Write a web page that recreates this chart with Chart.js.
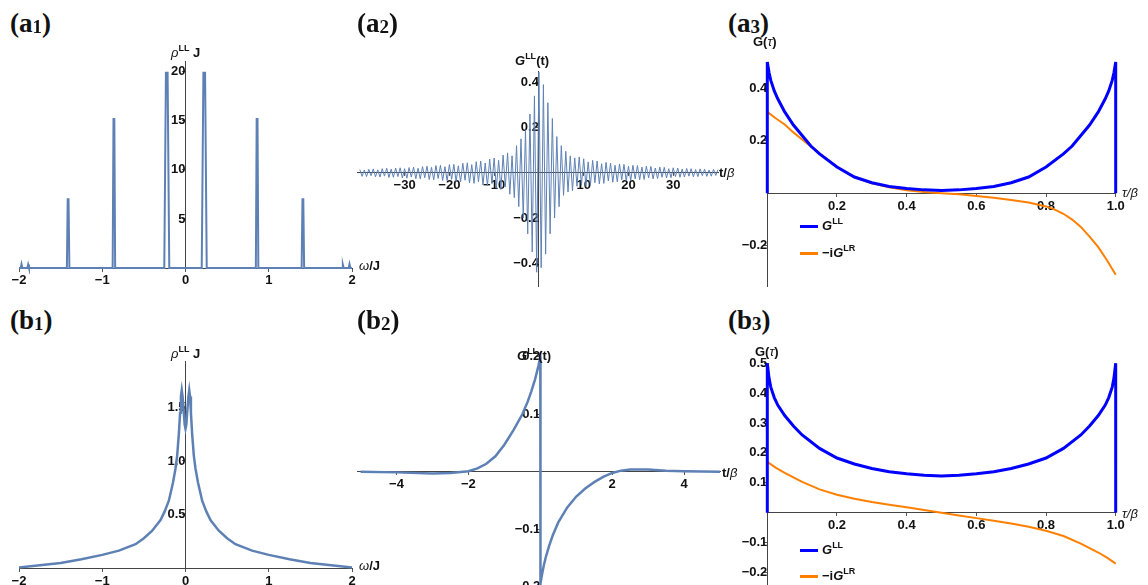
<!DOCTYPE html>
<html>
<head>
<meta charset="utf-8">
<script src="https://cdn.jsdelivr.net/npm/chart.js@4.4.0/dist/chart.umd.min.js"></script>
<style>
    body { margin: 0; background: #fff; overflow: hidden; }
    #page { position: relative; width: 1148px; height: 585px; overflow: hidden; background: #fff; font-family: "Liberation Sans", Arial, sans-serif; }
    canvas { position: absolute; }
    .lbl { position: absolute; font-family: "Liberation Serif", "Times New Roman", serif; font-weight: bold; font-size: 27px; line-height: 27px; color: #111; white-space: nowrap; }
    .lbl span { font-size: 19px; position: relative; top: 1px; }
    .ax { position: absolute; font-size: 13px; line-height: 13px; font-weight: bold; color: #111; white-space: nowrap; }
    .ax sup { font-size: 9px; line-height: 0; position: relative; top: -1px; }
    .gr { font-style: italic; font-weight: normal; }
    .key { position: absolute; width: 18px; height: 3px; }
</style>
</head>
<body>
<div id="page">
    <div class="lbl" style="left:10px; top:10px;">(a<span>1</span>)</div>
    <div class="lbl" style="left:357px; top:10px;">(a<span>2</span>)</div>
    <div class="lbl" style="left:728px; top:10px;">(a<span>3</span>)</div>
    <div class="lbl" style="left:10px; top:307px;">(b<span>1</span>)</div>
    <div class="lbl" style="left:357px; top:307px;">(b<span>2</span>)</div>
    <div class="lbl" style="left:728px; top:307px;">(b<span>3</span>)</div>

    <div class="ax" style="left:171px; top:46px;"><span class="gr">ρ</span><sup>LL</sup> J</div>
    <div class="ax" style="left:359px; top:259px;"><span class="gr">ω</span>/J</div>
    <div class="ax" style="left:515px; top:54px;"><i>G</i><sup>LL</sup>(t)</div>
    <div class="ax" style="left:719px; top:166px;">t/<span class="gr">β</span></div>
    <div class="ax" style="left:753px; top:35px;">G(<span class="gr">τ</span>)</div>
    <div class="ax" style="left:1122px; top:186px;"><span class="gr">τ/β</span></div>

    <div class="ax" style="left:171px; top:347px;"><span class="gr">ρ</span><sup>LL</sup> J</div>
    <div class="ax" style="left:359px; top:559px;"><span class="gr">ω</span>/J</div>
    <div class="ax" style="left:517px; top:349px;"><i>G</i><sup>LL</sup>(t)</div>
    <div class="ax" style="left:722px; top:466px;">t/<span class="gr">β</span></div>
    <div class="ax" style="left:755px; top:345px;">G(<span class="gr">τ</span>)</div>
    <div class="ax" style="left:1122px; top:507px;"><span class="gr">τ/β</span></div>

    <div class="key" style="left:800px; top:225px; background:#0000ff;"></div>
    <div class="ax" style="left:822px; top:219px;"><i>G</i><sup>LL</sup></div>
    <div class="key" style="left:800px; top:252px; background:#ff8000;"></div>
    <div class="ax" style="left:822px; top:246px;">−i<i>G</i><sup>LR</sup></div>

    <div class="key" style="left:800px; top:549px; background:#0000ff;"></div>
    <div class="ax" style="left:822px; top:543px;"><i>G</i><sup>LL</sup></div>
    <div class="key" style="left:800px; top:575px; background:#ff8000;"></div>
    <div class="ax" style="left:822px; top:569px;">−i<i>G</i><sup>LR</sup></div>
</div>
<script>
"use strict";

// (a1) spectral density, sharp peaks
var a1Omega = [-2, -1.98, -1.97, -1.96, -1.9, -1.89, -1.88, -1.425, -1.415, -1.405, -1.395, -0.875, -0.865, -0.855, -0.845,
    -0.255, -0.235, -0.215, -0.195, 0.195, 0.215, 0.235, 0.255, 0.845, 0.855, 0.865, 0.875, 1.395, 1.405, 1.415, 1.425,
    1.88, 1.89, 1.9, 1.96, 1.97, 1.98, 2];
var a1Rho = [0, 0, 0.4, 0, 0, 0.35, 0, 0, 7, 7, 0, 0, 15.2, 15.2, 0,
    0, 19.9, 19.9, 0, 0, 19.9, 19.9, 0, 0, 15.2, 15.2, 0, 0, 7, 7, 0,
    0, 0.35, 0, 0, 0.4, 0, 0];

// (a2) real time Green function, oscillating
var a2Time = [
    -40, -39.5, -39, -38.5, -38, -37.5, -37, -36.5, -36, -35.5,
    -35, -34.5, -34, -33.5, -33, -32.5, -32, -31.5, -31, -30.5,
    -30, -29.5, -29, -28.5, -28, -27.5, -27, -26.5, -26, -25.5,
    -25, -24.5, -24, -23.5, -23, -22.5, -22, -21.5, -21, -20.5,
    -20, -19.5, -19, -18.5, -18, -17.5, -17, -16.5, -16, -15.5,
    -15, -14.5, -14, -13.5, -13, -12.5, -12, -11.5, -11, -10.5,
    -10, -9.5, -9, -8.5, -8, -7.5, -7, -6.5, -6, -5.5,
    -5, -4.5, -4, -3.5, -3, -2.5, -2, -1.5, -1, -0.5,
    0, 0.5, 1, 1.5, 2, 2.5, 3, 3.5, 4, 4.5,
    5, 5.5, 6, 6.5, 7, 7.5, 8, 8.5, 9, 9.5,
    10, 10.5, 11, 11.5, 12, 12.5, 13, 13.5, 14, 14.5,
    15, 15.5, 16, 16.5, 17, 17.5, 18, 18.5, 19, 19.5,
    20, 20.5, 21, 21.5, 22, 22.5, 23, 23.5, 24, 24.5,
    25, 25.5, 26, 26.5, 27, 27.5, 28, 28.5, 29, 29.5,
    30, 30.5, 31, 31.5, 32, 32.5, 33, 33.5, 34, 34.5,
    35, 35.5, 36, 36.5, 37, 37.5, 38, 38.5, 39, 39.5,
    40];
var a2G = [
    0.014, -0.016, 0.012, -0.017, 0.015, -0.013, 0.017, -0.018, 0.013, -0.019,
    0.018, -0.015, 0.02, -0.021, 0.016, -0.02, 0.021, -0.017, 0.022, -0.023,
    0.018, -0.024, 0.023, -0.019, 0.025, -0.026, 0.02, -0.027, 0.027, -0.022,
    0.029, -0.03, 0.024, -0.031, 0.032, -0.025, 0.033, -0.034, 0.027, -0.035,
    0.036, -0.029, 0.037, -0.039, 0.031, -0.04, 0.042, -0.033, 0.044, -0.045,
    0.036, -0.047, 0.049, -0.04, 0.052, -0.054, 0.043, -0.058, 0.06, -0.048,
    0.065, -0.068, 0.055, -0.074, 0.078, -0.062, 0.088, -0.095, 0.075, -0.11,
    0.12, -0.15, 0.15, -0.2, 0.19, -0.27, 0.26, -0.35, 0.34, -0.44,
    0.445, -0.42, 0.39, -0.36, 0.31, -0.27, 0.24, -0.2, 0.16, -0.15,
    0.12, -0.1, 0.095, -0.085, 0.075, -0.08, 0.066, -0.06, 0.07, -0.055,
    0.062, -0.06, 0.048, -0.056, 0.055, -0.044, 0.052, -0.05, 0.04, -0.047,
    0.046, -0.036, 0.043, -0.042, 0.033, -0.04, 0.039, -0.031, 0.037, -0.036,
    0.029, -0.034, 0.033, -0.027, 0.032, -0.031, 0.025, -0.03, 0.029, -0.023,
    0.028, -0.027, 0.021, -0.026, 0.025, -0.02, 0.024, -0.023, 0.018, -0.022,
    0.022, -0.017, 0.021, -0.02, 0.016, -0.019, 0.019, -0.015, 0.018, -0.018,
    0.014, -0.017, 0.017, -0.013, 0.016, -0.016, 0.012, -0.015, 0.015, -0.012,
    0.014];

// (a3) imaginary time Green functions
var a3TauLL = [0, 0, 0.005, 0.01, 0.02, 0.03, 0.05, 0.075, 0.1, 0.125, 0.15, 0.2, 0.25, 0.3, 0.35, 0.4, 0.45, 0.5,
    0.55, 0.6, 0.65, 0.7, 0.75, 0.8, 0.85, 0.875, 0.9, 0.925, 0.95, 0.97, 0.98, 0.99, 0.995, 1, 1];
var a3GLL = [0, 0.5, 0.46, 0.43, 0.39, 0.36, 0.31, 0.26, 0.22, 0.18, 0.15, 0.1, 0.062, 0.04, 0.026, 0.018, 0.013, 0.011,
    0.013, 0.018, 0.026, 0.04, 0.062, 0.1, 0.15, 0.18, 0.22, 0.26, 0.31, 0.36, 0.39, 0.43, 0.46, 0.5, 0];
var a3TauLR = [0, 0.025, 0.05, 0.075, 0.1, 0.125, 0.15, 0.2, 0.25, 0.3, 0.35, 0.4, 0.45, 0.5,
    0.55, 0.6, 0.65, 0.7, 0.75, 0.8, 0.825, 0.85, 0.875, 0.9, 0.925, 0.95, 0.975, 1];
var a3GLR = [0.31, 0.285, 0.262, 0.232, 0.205, 0.178, 0.152, 0.1, 0.062, 0.038, 0.023, 0.012, 0.005, 0,
    -0.004, -0.01, -0.017, -0.026, -0.035, -0.05, -0.062, -0.078, -0.1, -0.128, -0.165, -0.205, -0.255, -0.31];

// (b1) spectral density, smooth
var b1Omega = [-2, -1.75, -1.5, -1.25, -1, -0.8, -0.6, -0.5, -0.4, -0.3, -0.25, -0.2, -0.15, -0.12, -0.1, -0.08,
    -0.065, -0.055, -0.045, -0.035, -0.02, -0.01, 0, 0.01, 0.02, 0.035, 0.045, 0.055, 0.065,
    0.08, 0.1, 0.12, 0.15, 0.2, 0.25, 0.3, 0.4, 0.5, 0.6, 0.8, 1, 1.25, 1.5, 1.75, 2];
var b1Rho = [0.008, 0.028, 0.05, 0.085, 0.125, 0.165, 0.225, 0.28, 0.35, 0.45, 0.53, 0.63, 0.8, 0.93, 1.05, 1.25,
    1.45, 1.6, 1.66, 1.6, 1.45, 1.34, 1.3, 1.34, 1.45, 1.6, 1.66, 1.6, 1.45,
    1.25, 1.05, 0.93, 0.8, 0.63, 0.53, 0.45, 0.35, 0.28, 0.225, 0.165, 0.125, 0.085, 0.05, 0.028, 0.008];

// (b2) real time Green function, decaying
var b2Time = [-5, -4, -3, -2.5, -2, -1.75, -1.5, -1.25, -1, -0.75, -0.5, -0.35, -0.25, -0.15, -0.1, -0.05, -0.01,
    0, 0, 0.01, 0.05, 0.1, 0.15, 0.25, 0.35, 0.5, 0.75, 1, 1.25, 1.5, 1.75, 2, 2.25, 2.5, 3, 3.5, 4, 5];
var b2G = [0, -0.001, -0.003, -0.002, 0.001, 0.006, 0.014, 0.027, 0.047, 0.072, 0.1, 0.122, 0.14, 0.16, 0.172, 0.185, 0.197,
    0.2, -0.2, -0.194, -0.178, -0.162, -0.149, -0.128, -0.11, -0.088, -0.062, -0.043, -0.029, -0.018, -0.009, -0.002, 0.002, 0.004, 0.004, 0.002, 0.001, 0];

// (b3) imaginary time Green functions
var b3TauLL = [0, 0, 0.005, 0.01, 0.02, 0.03, 0.05, 0.075, 0.1, 0.15, 0.2, 0.25, 0.3, 0.35, 0.4, 0.45, 0.5,
    0.55, 0.6, 0.65, 0.7, 0.75, 0.8, 0.85, 0.9, 0.925, 0.95, 0.97, 0.98, 0.99, 0.995, 1, 1];
var b3GLL = [0, 0.5, 0.45, 0.42, 0.385, 0.36, 0.325, 0.29, 0.26, 0.215, 0.183, 0.163, 0.148, 0.137, 0.13, 0.125, 0.123,
    0.125, 0.13, 0.137, 0.148, 0.163, 0.183, 0.215, 0.26, 0.29, 0.325, 0.36, 0.385, 0.42, 0.45, 0.5, 0];
var b3TauLR = [0, 0.025, 0.05, 0.1, 0.15, 0.2, 0.25, 0.3, 0.35, 0.4, 0.45, 0.5,
    0.55, 0.6, 0.65, 0.7, 0.75, 0.8, 0.85, 0.9, 0.95, 0.975, 1];
var b3GLR = [0.17, 0.15, 0.133, 0.103, 0.078, 0.06, 0.047, 0.036, 0.027, 0.018, 0.009, 0,
    -0.009, -0.018, -0.027, -0.036, -0.047, -0.06, -0.078, -0.103, -0.133, -0.15, -0.17];

// Tick labels
var omegaTicks = [-2, -1, 0, 1, 2];
var a1RhoTicks = [5, 10, 15, 20];
var a2TimeTicks = [-30, -20, -10, 10, 20, 30];
var a2GTicks = [-0.4, -0.2, 0.2, 0.4];
var tauTicks = [0.2, 0.4, 0.6, 0.8, 1.0];
var a3GTicks = [-0.2, 0.2, 0.4];
var b1RhoTicks = [0.5, 1.0, 1.5];
var b2TimeTicks = [-4, -2, 2, 4];
var b2GTicks = [-0.2, -0.1, 0.1, 0.2];
var b3GTicks = [-0.2, -0.1, 0.1, 0.2, 0.3, 0.4, 0.5];

var mmaBlue = "#5e81b5";
var pureBlue = "#0000ff";
var orange = "#ff8000";

window.onload = function () {

    makePanel({ left: 0, top: 40, w: 370, h: 260, pad: { left: 19, right: 18, top: 21, bottom: 32 } },
        axis(-2, 2, omegaTicks, 0, { y: 0 }), axis(0, 21.1, a1RhoTicks, 0, { x: 0 }),
        [line(a1Omega, a1Rho, mmaBlue, 2)]);

    makePanel({ left: 340, top: 40, w: 410, h: 260, pad: { left: 17.6, right: 32, top: 31.7, bottom: 13.3 } },
        axis(-40.5, 40, a2TimeTicks, 0, { y: 0 }), axis(-0.504, 0.447, a2GTicks, 1, { x: 0 }),
        [line(a2Time, a2G, mmaBlue, 1)]);

    makePanel({ left: 730, top: 40, w: 418, h: 260, pad: { left: 37.3, right: 32.3, top: 22, bottom: 13.5 } },
        axis(0, 1, tauTicks, 1, { y: 0 }), axis(-0.355, 0.5, a3GTicks, 1, { x: 0 }),
        [line(a3TauLL, a3GLL, pureBlue, 3), line(a3TauLR, a3GLR, orange, 2)]);

    makePanel({ left: 0, top: 340, w: 370, h: 245, pad: { left: 19, right: 18, top: 21.7, bottom: 16.7 } },
        axis(-2, 2, omegaTicks, 0, { y: 0 }), axis(0, 1.925, b1RhoTicks, 1, { x: 0 }),
        [line(b1Omega, b1Rho, mmaBlue, 2.5)]);

    makePanel({ left: 340, top: 340, w: 410, h: 260, pad: { left: 17, right: 30, top: 16.8, bottom: 13.2 } },
        axis(-5.1, 5, b2TimeTicks, 0, { y: 0 }), axis(-0.2, 0.2, b2GTicks, 1, { x: 0 }),
        [line(b2Time, b2G, mmaBlue, 2.5)]);

    makePanel({ left: 730, top: 340, w: 418, h: 260, pad: { left: 37.3, right: 32.3, top: 23.2, bottom: 14 } },
        axis(0, 1, tauTicks, 1, { y: 0 }), axis(-0.245, 0.5, b3GTicks, 1, { x: 0 }),
        [line(b3TauLL, b3GLL, pureBlue, 3), line(b3TauLR, b3GLR, orange, 2)]);
};

function line(xs, ys, color, width) {
    var points = [];
    for (let i = 0; i < xs.length; i++) {
        points.push({ x: xs[i], y: ys[i] });
    }
    return {
        data: points,
        showLine: true,
        borderColor: color,
        borderWidth: width,
        pointRadius: 0,
        tension: 0,
        fill: false,
        clip: 6
    };
}

function fmt(decimals) {
    return function (value) {
        return Number(value).toFixed(decimals).replace("-", "\u2212");
    };
}

function axis(min, max, ticks, decimals, at) {
    return {
        type: "linear",
        min: min,
        max: max,
        position: at,
        grid: { drawOnChartArea: false, drawTicks: true, tickLength: 3, color: "#555", lineWidth: 1 },
        border: { display: true, color: "#444", width: 1 },
        ticks: {
            color: "#111",
            padding: 2,
            autoSkip: false,
            maxRotation: 0,
            font: { family: "Liberation Sans", size: 13, weight: "bold" },
            callback: fmt(decimals)
        },
        afterBuildTicks: function (scale) {
            scale.ticks = ticks.map(function (v) { return { value: v }; });
        },
        afterFit: function (scale) {
            // axes sit inside the plot, so they take no layout room
            if (scale.isHorizontal()) {
                scale.height = 0;
            } else {
                scale.width = 0;
            }
            scale.paddingLeft = 0;
            scale.paddingRight = 0;
            scale.paddingTop = 0;
            scale.paddingBottom = 0;
        }
    };
}

function makePanel(box, xAxis, yAxis, datasets) {
    var canvas = document.createElement("canvas");
    canvas.width = box.w;
    canvas.height = box.h;
    canvas.style.left = box.left + "px";
    canvas.style.top = box.top + "px";
    document.getElementById("page").insertBefore(canvas, document.getElementById("page").firstChild);

    return new Chart(canvas.getContext("2d"), {
        type: "scatter",
        data: { datasets: datasets },
        options: {
            responsive: false,
            animation: false,
            devicePixelRatio: 1,
            events: [],
            layout: { padding: box.pad },
            plugins: { legend: { display: false }, tooltip: { enabled: false } },
            scales: { x: xAxis, y: yAxis }
        }
    });
}
</script>
</body>
</html>
